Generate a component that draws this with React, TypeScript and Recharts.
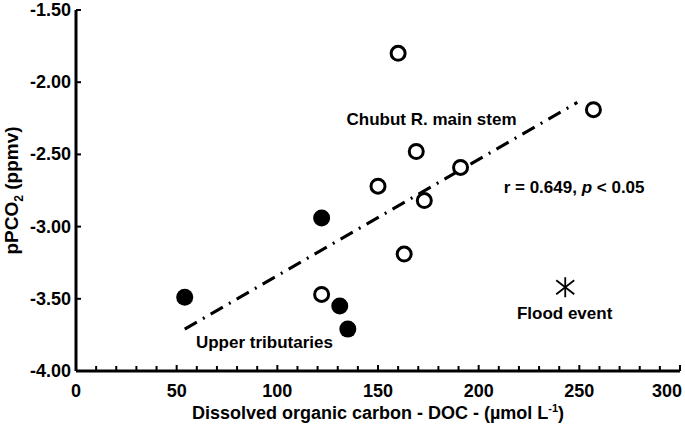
import React from 'react';
import { ScatterChart, Scatter, XAxis, YAxis, Label } from 'recharts';

// Chubut R. main stem (open circles)
const mainStem = [
  { doc: 160, pco2: -1.8 },
  { doc: 257, pco2: -2.19 },
  { doc: 169, pco2: -2.48 },
  { doc: 150, pco2: -2.72 },
  { doc: 191, pco2: -2.59 },
  { doc: 173, pco2: -2.82 },
  { doc: 163, pco2: -3.19 },
  { doc: 122, pco2: -3.47 },
];
// upper tributaries (filled circles)
const upperTributaries = [
  { doc: 122, pco2: -2.94 },
  { doc: 54, pco2: -3.49 },
  { doc: 131, pco2: -3.55 },
  { doc: 135, pco2: -3.71 },
];
const floodEvent = [{ doc: 243, pco2: -3.42 }];
const trendLine = [
  { doc: 54, pco2: -3.71 },
  { doc: 249, pco2: -2.14 },
];
const annotations = [
  { doc: 176.6, pco2: -2.255, text: 'Chubut R. main stem' },
  { doc: 247.4, pco2: -2.726, text: 'r = 0.649, ' },
  { doc: 93.6, pco2: -3.8, text: 'Upper tributaries' },
  { doc: 242.7, pco2: -3.6, text: 'Flood event' },
];
const xTicks = [0, 10, 20, 30, 40, 50, 60, 70, 80, 90, 100, 110, 120, 130, 140, 150, 160, 170, 180, 190, 200, 210, 220, 230, 240, 250, 260, 270, 280, 290, 300];
const yTicks = [-4, -3.5, -3, -2.5, -2, -1.5];

const FONT = '"Liberation Sans", Arial, sans-serif';

function XTick(props: any) {
  const { x, y, payload } = props;
  const v = payload.value;
  const major = v % 50 === 0;
  const last = v === 300;
  return (
    <g>
      <line x1={x} x2={x} y1={y} y2={y - (major ? 6 : 5)} stroke="#000" strokeWidth={2} />
      {major && (
        <text x={last ? x + 2 : x} y={y + 26} textAnchor={last ? 'end' : 'middle'} fontFamily={FONT} fontWeight="bold" fontSize={18} fill="#000">
          {v}
        </text>
      )}
    </g>
  );
}

function YTick(props: any) {
  const { x, y, payload } = props;
  return (
    <g>
      <line x1={x} x2={x + 5} y1={y} y2={y} stroke="#000" strokeWidth={2} />
      <text x={x - 5} y={y + 6} textAnchor="end" fontFamily={FONT} fontWeight="bold" fontSize={18} fill="#000">
        {payload.value.toFixed(2)}
      </text>
    </g>
  );
}

const OpenCircle = (p: any) => <circle cx={p.cx} cy={p.cy} r={7} fill="#fff" stroke="#000" strokeWidth={3} />;
const FilledCircle = (p: any) => <circle cx={p.cx} cy={p.cy} r={8.5} fill="#000" />;
const Star = (p: any) => {
  const { cx, cy } = p;
  return (
    <g stroke="#000" strokeWidth={1.8}>
      <line x1={cx} x2={cx} y1={cy - 10} y2={cy + 10} />
      <line x1={cx - 9} x2={cx + 9} y1={cy - 7} y2={cy + 7} />
      <line x1={cx - 9} x2={cx + 9} y1={cy + 7} y2={cy - 7} />
    </g>
  );
};
const AnnotationText = (p: any) => {
  const { cx, cy, payload } = p;
  return (
    <text x={cx} y={cy + 6} textAnchor="middle" fontFamily={FONT} fontWeight="bold" fontSize={17} fill="#000">
      {payload.text}
      {payload.text.startsWith('r =') && (
        <>
          <tspan fontStyle="italic">p</tspan>
          <tspan> &lt; 0.05</tspan>
        </>
      )}
    </text>
  );
};

const XTitle = (props: any) => {
  const { viewBox } = props;
  const cx = viewBox.x + viewBox.width / 2;
  return (
    <text x={cx} y={viewBox.y + 48} textAnchor="middle" fontFamily={FONT} fontWeight="bold" fontSize={18} fill="#000">
      Dissolved organic carbon - DOC - (µmol L<tspan dy={-7} fontSize={11}>-1</tspan><tspan dy={7}>)</tspan>
    </text>
  );
};

const YTitle = (props: any) => {
  const { viewBox } = props;
  const cy = viewBox.y + viewBox.height / 2;
  return (
    <text x={18} y={cy} transform={`rotate(-90, 18, ${cy})`} textAnchor="middle" fontFamily={FONT} fontWeight="bold" fontSize={19} fill="#000">
      pPCO<tspan dy={5} fontSize={12}>2</tspan><tspan dy={-5}> (ppmv)</tspan>
    </text>
  );
};

export default function App() {
  return (
    <div style={{ position: 'absolute', left: 0, top: 0, background: '#fff' }}>
      <ScatterChart width={685} height={431} margin={{ top: 10, right: 5, bottom: 0, left: 0 }}>
        <XAxis
          type="number"
          dataKey="doc"
          domain={[0, 300]}
          ticks={xTicks}
          interval={0}
          axisLine={{ stroke: '#000', strokeWidth: 3 }}
          tickLine={false}
          tickSize={0}
          tickMargin={0}
          tick={<XTick />}
          height={60}
        >
          <Label content={<XTitle />} />
        </XAxis>
        <YAxis
          type="number"
          dataKey="pco2"
          domain={[-4, -1.5]}
          ticks={yTicks}
          interval={0}
          axisLine={{ stroke: '#000', strokeWidth: 3 }}
          tickLine={false}
          tickSize={0}
          tickMargin={0}
          tick={<YTick />}
          width={76}
        >
          <Label content={<YTitle />} />
        </YAxis>
        <Scatter data={trendLine} line={{ stroke: '#000', strokeWidth: 3, strokeDasharray: '14 7 2 7' }} shape={() => <g />} isAnimationActive={false} />
        <Scatter data={mainStem} shape={OpenCircle} isAnimationActive={false} />
        <Scatter data={upperTributaries} shape={FilledCircle} isAnimationActive={false} />
        <Scatter data={floodEvent} shape={Star} isAnimationActive={false} />
        <Scatter data={annotations} shape={AnnotationText} isAnimationActive={false} />
      </ScatterChart>
    </div>
  );
}
